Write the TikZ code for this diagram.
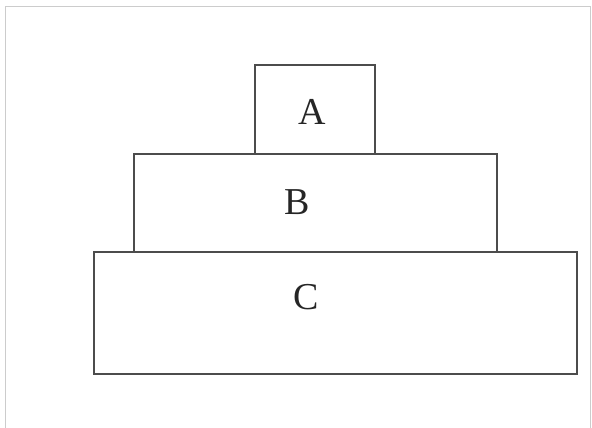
\documentclass[tikz,border=0pt]{standalone}
\usepackage{fontspec}
\setmainfont{Liberation Serif}
\usepackage{tikz}
\usetikzlibrary{calc,positioning}
\usepackage{xcolor}

\begin{document}
\begin{tikzpicture}[x=1pt, y=-1pt]
    \tikzset{
        block/.style={draw=black!70, line width=1.8pt},
        blocklabel/.style={font=\fontsize{38}{40}\selectfont, text=black!85}
    }
    \useasboundingbox (0, 0) rectangle (592, 428);

    % Frame
    \draw[black!20, line width=1pt] (5, 428) -- (5, 7) -- (590, 7) -- (590, 428);

    % Bottom block
    \draw[block] (94, 252) rectangle (577, 374);
    \node[blocklabel] (lblC) at (306, 297) {C};

    % Middle block
    \draw[block] (134, 252) -- (134, 154) -- (497, 154) -- (497, 252);
    \node[blocklabel] (lblB) at (297, 202) {B};

    % Top block
    \draw[block] (255, 154) -- (255, 65) -- (375, 65) -- (375, 154);
    \node[blocklabel] (lblA) at (312, 112) {A};
\end{tikzpicture}
\end{document}
